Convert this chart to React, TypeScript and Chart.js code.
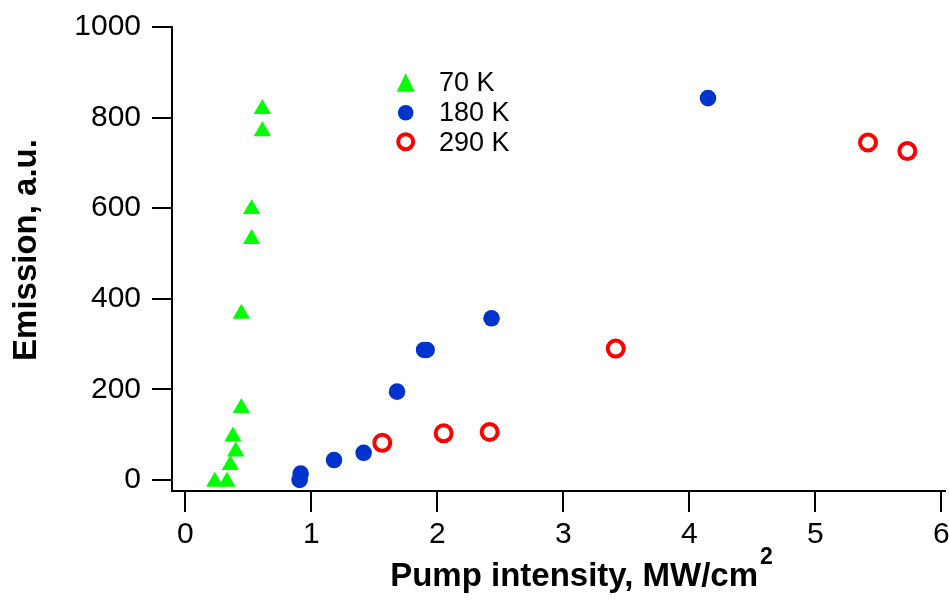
import React, { useEffect, useRef } from 'react';
import { Chart, registerables } from 'chart.js';

Chart.register(...registerables);

// ---- data ----
const xTicks = [0, 1, 2, 3, 4, 5, 6];
const yTicks = [0, 200, 400, 600, 800, 1000];
const seriesLabels = ['70 K', '180 K', '290 K'];

const x70 = [0.234, 0.33, 0.357, 0.4, 0.378, 0.444, 0.444, 0.526, 0.526, 0.611, 0.611];
const y70 = [-4, -4, 33, 63, 96, 159, 367, 532, 598, 770, 819];

const x180 = [0.907, 0.915, 1.18, 1.415, 1.68, 1.895, 1.915, 2.43, 4.148];
const y180 = [0, 14, 44, 60, 195, 287, 287, 357, 843];

const x290 = [1.563, 2.05, 2.415, 3.416, 5.418, 5.73];
const y290 = [82, 103, 106, 290, 745, 726];

const xTitle = 'Pump intensity, MW/cm';
const xTitleSup = '2';
const yTitle = 'Emission, a.u.';

const FONT = '"Liberation Sans", Arial, Helvetica, sans-serif';
const GREEN = '#00ff00';
const BLUE = '#0033cc';
const RED = '#ff0000';

export default function App() {
  const ref = useRef<HTMLCanvasElement>(null);

  useEffect(() => {
    const canvas = ref.current;
    if (!canvas) return;
    const pts = (xs: number[], ys: number[]) => xs.map((x, i) => ({ x, y: ys[i] }));

    const titlesPlugin = {
      id: 'axisTitles',
      afterDraw(chart: any) {
        const ctx = chart.ctx as CanvasRenderingContext2D;
        const area = chart.chartArea;
        ctx.save();
        ctx.fillStyle = '#000';
        // x title with superscript
        ctx.font = `bold 33px ${FONT}`;
        const w1 = ctx.measureText(xTitle).width;
        ctx.font = `bold 23px ${FONT}`;
        const w2 = ctx.measureText(xTitleSup).width;
        const cx = (area.left + area.right) / 2 + 22;
        const x0 = cx - (w1 + w2) / 2;
        ctx.textBaseline = 'alphabetic';
        ctx.textAlign = 'left';
        ctx.font = `bold 33px ${FONT}`;
        ctx.fillText(xTitle, x0, 586);
        ctx.font = `bold 23px ${FONT}`;
        ctx.fillText(xTitleSup, x0 + w1 + 2, 564);
        // y title rotated
        ctx.font = `bold 33px ${FONT}`;
        ctx.translate(36, (area.top + area.bottom) / 2 - 9);
        ctx.rotate(-Math.PI / 2);
        ctx.textAlign = 'center';
        ctx.fillText(yTitle, 0, 0);
        ctx.restore();
      },
    };

    const legendPlugin = {
      id: 'innerLegend',
      afterDatasetsDraw(chart: any) {
        const ctx = chart.ctx as CanvasRenderingContext2D;
        const mx = 405.7;
        const rows = [85, 112.7, 141.7];
        const baselines = [90.7, 120.7, 150.7];
        ctx.save();
        // triangle
        ctx.fillStyle = GREEN;
        ctx.beginPath();
        ctx.moveTo(mx, 73.3);
        ctx.lineTo(mx + 9, 91.7);
        ctx.lineTo(mx - 9, 91.7);
        ctx.closePath();
        ctx.fill();
        // blue disc
        ctx.fillStyle = BLUE;
        ctx.beginPath();
        ctx.arc(mx, rows[1], 7.8, 0, Math.PI * 2);
        ctx.fill();
        // red ring
        ctx.strokeStyle = RED;
        ctx.lineWidth = 4;
        ctx.beginPath();
        ctx.arc(mx, rows[2], 7.5, 0, Math.PI * 2);
        ctx.stroke();
        ctx.fillStyle = '#000';
        ctx.font = `27px ${FONT}`;
        ctx.textAlign = 'left';
        ctx.textBaseline = 'alphabetic';
        seriesLabels.forEach((t, i) => ctx.fillText(t, 439, baselines[i]));
        ctx.restore();
      },
    };

    const chart = new Chart(canvas, {
      type: 'scatter',
      data: {
        datasets: [
          {
            label: seriesLabels[0],
            data: pts(x70, y70),
            pointStyle: 'triangle',
            pointRadius: 10,
            backgroundColor: GREEN,
            borderColor: GREEN,
            borderWidth: 0,
          },
          {
            label: seriesLabels[1],
            data: pts(x180, y180),
            pointStyle: 'circle',
            pointRadius: 8.3,
            backgroundColor: BLUE,
            borderColor: BLUE,
            borderWidth: 0,
          },
          {
            label: seriesLabels[2],
            data: pts(x290, y290),
            pointStyle: 'circle',
            pointRadius: 8,
            backgroundColor: 'rgba(255,255,255,0)',
            borderColor: RED,
            borderWidth: 4,
          },
        ],
      },
      options: {
        responsive: false,
        animation: false,
        events: [],
        layout: { autoPadding: false, padding: { top: 27, right: 4, left: 0, bottom: 0 } },
        plugins: {
          legend: { display: false },
          tooltip: { enabled: false },
          title: { display: false },
        },
        scales: {
          x: {
            type: 'linear',
            min: -0.106,
            max: 6.029,
            afterBuildTicks: (s: any) => {
              s.ticks = xTicks.map((v) => ({ value: v }));
            },
            afterFit: (s: any) => {
              s.height = 113;
              s.paddingLeft = 0;
              s.paddingRight = 0;
            },
            grid: { drawOnChartArea: false, drawTicks: true, tickLength: 21, color: '#000', lineWidth: 2 },
            border: { display: true, color: '#000', width: 2 },
            ticks: {
              color: '#000',
              font: { family: FONT, size: 30 },
              padding: 5,
              maxRotation: 0,
              autoSkip: false,
              callback: (v: any) => String(v),
            },
          },
          y: {
            type: 'linear',
            min: -24.3,
            max: 1000,
            afterBuildTicks: (s: any) => {
              s.ticks = yTicks.map((v) => ({ value: v }));
            },
            afterFit: (s: any) => {
              s.width = 172;
              s.paddingTop = 0;
              s.paddingBottom = 0;
            },
            grid: { drawOnChartArea: false, drawTicks: true, tickLength: 20, color: '#000', lineWidth: 2 },
            border: { display: true, color: '#000', width: 2 },
            ticks: {
              color: '#000',
              font: { family: FONT, size: 30 },
              padding: 11,
              autoSkip: false,
              callback: (v: any) => String(v),
            },
          },
        },
      },
      plugins: [titlesPlugin, legendPlugin],
    });
    return () => chart.destroy();
  }, []);

  return (
    <div style={{ position: 'absolute', left: 0, top: 0, width: 949, height: 604, background: '#fff' }}>
      <canvas ref={ref} width={949} height={604} style={{ display: 'block', width: 949, height: 604 }} />
    </div>
  );
}
